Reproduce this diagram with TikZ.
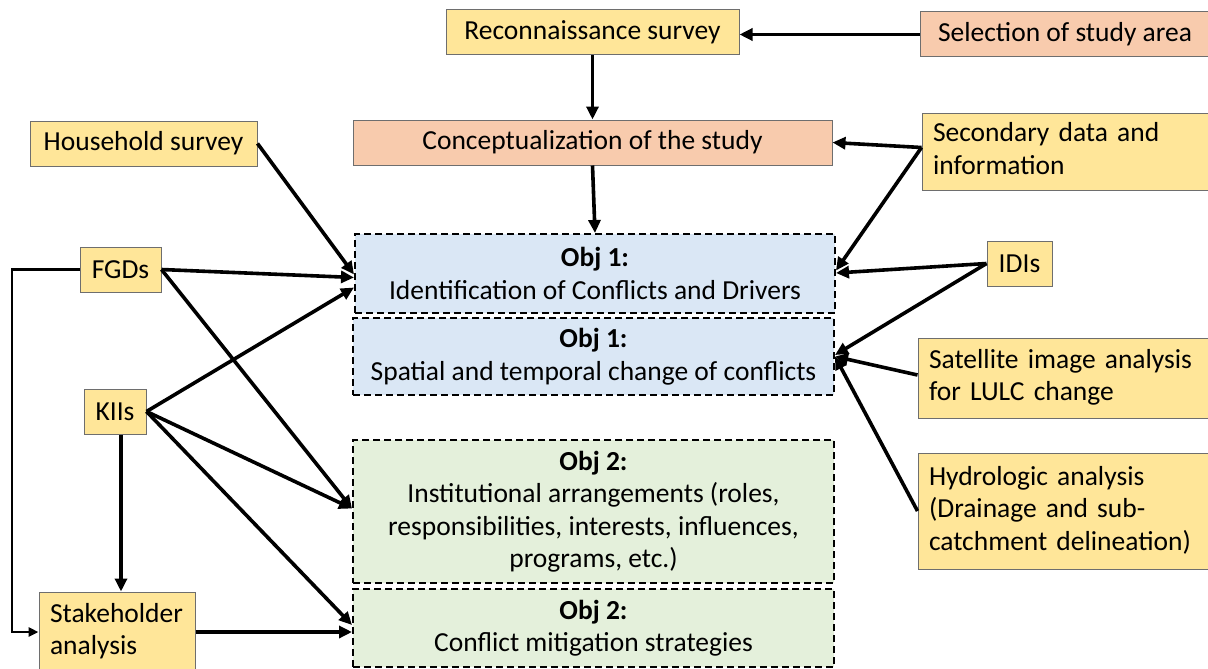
\documentclass[tikz,border=0pt]{standalone}
\usepackage{fontspec}
\setmainfont{Carlito}
\usetikzlibrary{arrows.meta}
\definecolor{yel}{HTML}{FFE699}
\definecolor{sal}{HTML}{F8CBAD}
\definecolor{blu}{HTML}{DAE7F5}
\definecolor{grn}{HTML}{E4F0DB}
\definecolor{bord}{HTML}{6E6E6E}
\newcommand{\fs}{\fontsize{27.5}{32.5}\selectfont}
\newcommand{\lft}[1]{\begin{tabular}{@{}l@{}}#1\end{tabular}}
\tikzset{
  box/.style={draw=bord, line width=1pt, inner sep=0pt, font=\fs},
  yel/.style={box, fill=yel},
  sal/.style={box, fill=sal},
  ybox/.style={yel, inner xsep=11pt, align=left},
  obj/.style={draw=black, line width=2pt, dash pattern=on 7pt off 4pt, inner sep=0pt, font=\fs, align=center},
  arr/.style={line width=3.6pt, -{Triangle[length=13pt,width=12pt]}},
}
\begin{document}
\begin{tikzpicture}[x=1pt,y=-1pt]
\clip (0,0) rectangle (1208,669);
\fill[white] (0,0) rectangle (1208,669);
% nodes
\node[yel, minimum width=293, minimum height=45] (rec) at (592.5,32.5) {Reconnaissance survey};
\node[sal, minimum width=290, minimum height=45] (sel) at (1065,34.5) {Selection of study area};
\node[sal, minimum width=479, minimum height=45] (con) at (592.5,142.5) {Conceptualization of the study};
\node[yel, minimum width=227, minimum height=45] (hh) at (143.5,143.5) {Household survey};
\node[ybox, text width=266, minimum height=77] (sec) at (1066,151.5) {\lft{Secondary data and\\information}};
\node[obj, fill=blu, minimum width=480, minimum height=79] (o1a) at (595,273.5) {\textbf{Obj 1:}\\Identification of Conflicts and Drivers};
\node[obj, fill=blu, minimum width=481, minimum height=77] (o1b) at (593.5,356.5) {\textbf{Obj 1:}\\Spatial and temporal change of conflicts};
\node[yel, minimum width=81, minimum height=45] (fgd) at (120.5,269.5) {FGDs};
\node[yel, minimum width=65, minimum height=45] (idi) at (1019.5,263.5) {IDIs};
\node[yel, minimum width=62, minimum height=45] (kii) at (115,411.5) {KIIs};
\node[ybox, text width=270, minimum height=80] (sat) at (1064,378) {\lft{Satellite image analysis\\for LULC change}};
\node[ybox, text width=270, minimum height=116] (hyd) at (1064,511) {\lft{Hydrologic analysis\\(Drainage and sub-\\catchment delineation)}};
\node[obj, fill=grn, minimum width=481, minimum height=143] (o2a) at (593.5,511.5) {\textbf{Obj 2:}\\Institutional arrangements (roles,\\responsibilities, interests, influences,\\programs, etc.)};
\node[obj, fill=grn, minimum width=481, minimum height=78] (o2b) at (593.5,628) {\textbf{Obj 2:}\\Conflict mitigation strategies};
\node[ybox, text width=134, minimum height=80] (stk) at (117,632) {\lft{Stakeholder\\analysis}};
% connectors
\draw[arr] (sel.west) -- (rec.east |- sel.west);
\draw[arr] (rec.south) -- (con.north);
\draw[arr] ([yshift=4]sec.west) -- (con.east);
\draw[arr] ([yshift=4]sec.west) -- ([yshift=3]o1a.east);
\draw[arr] (con.south) -- (o1a.north);
\draw[arr] (hh.east) -- ([yshift=-1]o1a.west);
\draw[arr] (fgd.east) -- ([yshift=-4]o1a.west);
\draw[arr] (fgd.east) -- ([yshift=3]o2a.west);
\draw[line width=2.6pt, -{Triangle[length=10pt,width=9pt]}] (fgd.west) -- (12,269.5) |- (stk.west);
\draw[arr] (kii.east) -- ([yshift=-14]o1a.west);
\draw[arr] (kii.east) -- ([yshift=3]o2a.west);
\draw[arr] (kii.east) -- ([yshift=3]o2b.west);
\draw[arr] ([xshift=6]kii.south) -- ([xshift=6]kii.south |- stk.north);
\draw[arr] (stk.east) -- (o2b.west |- stk.east);
\draw[arr] (idi.west) -- ([yshift=0.5]o1a.east);
\draw[arr] (idi.west) -- ([yshift=1.5]o1b.east);
\draw[arr] ([yshift=3]sat.west) -- ([yshift=0]o1b.east);
\draw[arr] (hyd.west) -- ([yshift=0]o1b.east);
\end{tikzpicture}
\end{document}
